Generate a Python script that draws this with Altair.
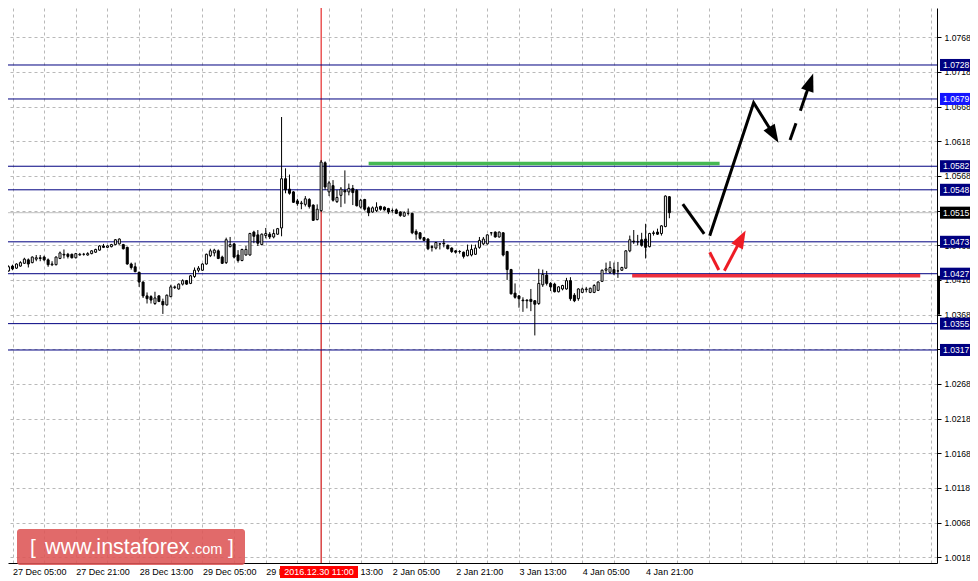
import json
import altair as alt
import pandas as pd

# ---------------- data ----------------
OPEN = [1.0431, 1.0438, 1.0435, 1.0438, 1.0442, 1.0447, 1.0443, 1.0448, 1.0450, 1.0451,
        1.0447, 1.0440, 1.0440, 1.0449, 1.0455, 1.0455, 1.0455, 1.0450, 1.0454, 1.0455,
        1.0454, 1.0456, 1.0458, 1.0461, 1.0467, 1.0465, 1.0466, 1.0469, 1.0470, 1.0469,
        1.0465, 1.0441, 1.0437, 1.0429, 1.0415, 1.0395, 1.0394, 1.0384, 1.0395, 1.0387,
        1.0382, 1.0394, 1.0407, 1.0405, 1.0412, 1.0417, 1.0413, 1.0423, 1.0432, 1.0432,
        1.0441, 1.0453, 1.0457, 1.0460, 1.0451, 1.0443, 1.0466, 1.0470, 1.0454, 1.0446,
        1.0454, 1.0454, 1.0487, 1.0483, 1.0469, 1.0482, 1.0484, 1.0480, 1.0484, 1.0493,
        1.0564, 1.0549, 1.0545, 1.0532, 1.0528, 1.0527, 1.0534, 1.0526, 1.0505, 1.0518,
        1.0587, 1.0545, 1.0554, 1.0531, 1.0540, 1.0547, 1.0545, 1.0550, 1.0547, 1.0523,
        1.0534, 1.0522, 1.0516, 1.0518, 1.0524, 1.0523, 1.0521, 1.0518, 1.0519, 1.0516,
        1.0510, 1.0514, 1.0514, 1.0488, 1.0486, 1.0479, 1.0477, 1.0466, 1.0464, 1.0470,
        1.0471, 1.0468, 1.0464, 1.0460, 1.0459, 1.0458, 1.0453, 1.0454, 1.0455, 1.0465,
        1.0470, 1.0470, 1.0486, 1.0487, 1.0480, 1.0486, 1.0459, 1.0433, 1.0399, 1.0395,
        1.0389, 1.0389, 1.0390, 1.0388, 1.0384, 1.0411, 1.0425, 1.0413, 1.0412, 1.0401,
        1.0405, 1.0405, 1.0417, 1.0396, 1.0391, 1.0400, 1.0404, 1.0400, 1.0400, 1.0403,
        1.0416, 1.0432, 1.0429, 1.0433, 1.0431, 1.0432, 1.0435, 1.0460, 1.0474, 1.0473,
        1.0476, 1.0477, 1.0466, 1.0485, 1.0487, 1.0485, 1.0495, 1.0538]
HIGH = [1.0439, 1.0440, 1.0442, 1.0445, 1.0450, 1.0449, 1.0452, 1.0454, 1.0454, 1.0453,
        1.0449, 1.0445, 1.0452, 1.0459, 1.0462, 1.0457, 1.0456, 1.0457, 1.0457, 1.0457,
        1.0458, 1.0461, 1.0463, 1.0468, 1.0470, 1.0468, 1.0470, 1.0477, 1.0478, 1.0470,
        1.0466, 1.0443, 1.0443, 1.0430, 1.0416, 1.0400, 1.0396, 1.0401, 1.0396, 1.0391,
        1.0397, 1.0411, 1.0410, 1.0413, 1.0419, 1.0418, 1.0425, 1.0436, 1.0438, 1.0442,
        1.0456, 1.0463, 1.0463, 1.0462, 1.0453, 1.0479, 1.0480, 1.0471, 1.0461, 1.0463,
        1.0467, 1.0486, 1.0489, 1.0490, 1.0485, 1.0493, 1.0487, 1.0491, 1.0493, 1.0653,
        1.0579, 1.0570, 1.0546, 1.0535, 1.0532, 1.0539, 1.0536, 1.0527, 1.0527, 1.0591,
        1.0589, 1.0561, 1.0562, 1.0548, 1.0552, 1.0576, 1.0557, 1.0555, 1.0549, 1.0535,
        1.0535, 1.0524, 1.0524, 1.0530, 1.0525, 1.0524, 1.0522, 1.0521, 1.0521, 1.0517,
        1.0517, 1.0521, 1.0515, 1.0491, 1.0487, 1.0480, 1.0478, 1.0468, 1.0473, 1.0471,
        1.0477, 1.0469, 1.0465, 1.0461, 1.0461, 1.0459, 1.0469, 1.0469, 1.0469, 1.0480,
        1.0480, 1.0484, 1.0487, 1.0488, 1.0488, 1.0487, 1.0460, 1.0434, 1.0413, 1.0396,
        1.0393, 1.0390, 1.0405, 1.0389, 1.0434, 1.0433, 1.0431, 1.0415, 1.0414, 1.0409,
        1.0411, 1.0421, 1.0422, 1.0399, 1.0406, 1.0407, 1.0408, 1.0407, 1.0412, 1.0416,
        1.0433, 1.0443, 1.0445, 1.0443, 1.0444, 1.0437, 1.0461, 1.0482, 1.0490, 1.0483,
        1.0486, 1.0499, 1.0486, 1.0489, 1.0492, 1.0497, 1.0540, 1.0539]
LOW = [1.0430, 1.0432, 1.0434, 1.0437, 1.0441, 1.0436, 1.0442, 1.0445, 1.0445, 1.0445,
       1.0437, 1.0438, 1.0439, 1.0448, 1.0449, 1.0449, 1.0449, 1.0449, 1.0453, 1.0453,
       1.0453, 1.0455, 1.0457, 1.0460, 1.0464, 1.0464, 1.0465, 1.0468, 1.0469, 1.0462,
       1.0440, 1.0433, 1.0429, 1.0408, 1.0392, 1.0384, 1.0384, 1.0382, 1.0386, 1.0369,
       1.0381, 1.0393, 1.0405, 1.0404, 1.0410, 1.0411, 1.0412, 1.0421, 1.0429, 1.0431,
       1.0440, 1.0451, 1.0452, 1.0448, 1.0441, 1.0441, 1.0465, 1.0449, 1.0443, 1.0445,
       1.0453, 1.0453, 1.0471, 1.0467, 1.0468, 1.0478, 1.0477, 1.0478, 1.0483, 1.0481,
       1.0543, 1.0541, 1.0529, 1.0525, 1.0520, 1.0524, 1.0521, 1.0503, 1.0504, 1.0516,
       1.0548, 1.0539, 1.0531, 1.0529, 1.0523, 1.0528, 1.0540, 1.0526, 1.0524, 1.0521,
       1.0518, 1.0510, 1.0515, 1.0516, 1.0518, 1.0518, 1.0513, 1.0515, 1.0513, 1.0509,
       1.0509, 1.0511, 1.0484, 1.0476, 1.0476, 1.0474, 1.0461, 1.0459, 1.0462, 1.0462,
       1.0465, 1.0462, 1.0457, 1.0456, 1.0456, 1.0449, 1.0452, 1.0452, 1.0454, 1.0463,
       1.0468, 1.0469, 1.0482, 1.0479, 1.0479, 1.0452, 1.0418, 1.0397, 1.0391, 1.0378,
       1.0372, 1.0377, 1.0373, 1.0338, 1.0382, 1.0408, 1.0410, 1.0402, 1.0400, 1.0400,
       1.0403, 1.0404, 1.0388, 1.0386, 1.0388, 1.0399, 1.0400, 1.0399, 1.0399, 1.0402,
       1.0415, 1.0428, 1.0427, 1.0425, 1.0421, 1.0431, 1.0434, 1.0458, 1.0470, 1.0468,
       1.0466, 1.0449, 1.0465, 1.0482, 1.0483, 1.0482, 1.0494, 1.0507]
CLOSE = [1.0437, 1.0434, 1.0441, 1.0443, 1.0448, 1.0441, 1.0451, 1.0450, 1.0449, 1.0447,
         1.0440, 1.0441, 1.0451, 1.0457, 1.0454, 1.0452, 1.0450, 1.0456, 1.0455, 1.0455,
         1.0456, 1.0460, 1.0462, 1.0467, 1.0465, 1.0467, 1.0469, 1.0476, 1.0477, 1.0463,
         1.0441, 1.0436, 1.0430, 1.0415, 1.0395, 1.0391, 1.0389, 1.0392, 1.0387, 1.0382,
         1.0396, 1.0408, 1.0408, 1.0412, 1.0417, 1.0412, 1.0424, 1.0432, 1.0435, 1.0441,
         1.0455, 1.0460, 1.0461, 1.0449, 1.0442, 1.0476, 1.0469, 1.0451, 1.0446, 1.0462,
         1.0462, 1.0485, 1.0481, 1.0471, 1.0484, 1.0485, 1.0480, 1.0485, 1.0492, 1.0564,
         1.0548, 1.0543, 1.0530, 1.0528, 1.0529, 1.0535, 1.0524, 1.0504, 1.0520, 1.0588,
         1.0552, 1.0558, 1.0533, 1.0537, 1.0549, 1.0545, 1.0550, 1.0544, 1.0525, 1.0533,
         1.0520, 1.0515, 1.0522, 1.0523, 1.0520, 1.0519, 1.0516, 1.0518, 1.0514, 1.0511,
         1.0515, 1.0514, 1.0486, 1.0484, 1.0478, 1.0475, 1.0463, 1.0465, 1.0472, 1.0470,
         1.0470, 1.0463, 1.0459, 1.0458, 1.0459, 1.0452, 1.0461, 1.0462, 1.0464, 1.0475,
         1.0477, 1.0483, 1.0486, 1.0480, 1.0487, 1.0454, 1.0433, 1.0398, 1.0393, 1.0391,
         1.0388, 1.0388, 1.0387, 1.0383, 1.0413, 1.0426, 1.0413, 1.0408, 1.0401, 1.0408,
         1.0410, 1.0417, 1.0391, 1.0388, 1.0405, 1.0405, 1.0405, 1.0406, 1.0410, 1.0415,
         1.0432, 1.0434, 1.0436, 1.0428, 1.0431, 1.0436, 1.0460, 1.0476, 1.0473, 1.0473,
         1.0468, 1.0465, 1.0485, 1.0486, 1.0484, 1.0496, 1.0539, 1.0515]

# time axis: bar index of each label (H1 bars)
TIME_LABELS = ["27 Dec 05:00", "27 Dec 21:00", "28 Dec 13:00", "29 Dec 05:00", "29 Dec 21:00",
               "30 Dec 13:00", "2 Jan 05:00", "2 Jan 21:00", "3 Jan 13:00", "4 Jan 05:00",
               "4 Jan 21:00"]
TIME_LABEL_BARS = [1, 17, 33, 49, 65, 81, 97, 113, 129, 145, 161]
GRID_BARS = [1 + 8 * k for k in range(30)]
CROSSHAIR_BAR = 79
CROSSHAIR_TEXT = "2016.12.30 11:00"

PRICE_TICKS = [1.0018, 1.0068, 1.0118, 1.0168, 1.0218, 1.0268, 1.0318, 1.0368,
               1.0418, 1.0468, 1.0518, 1.0568, 1.0618, 1.0668, 1.0718, 1.0768]

LEVEL_PRICES = [1.0728, 1.0679, 1.0582, 1.0548, 1.0473, 1.0427, 1.0355, 1.0317]
LEVEL_BOX_PRICES = [1.0728, 1.0679, 1.0582, 1.0548, 1.0515, 1.0473, 1.0427, 1.0355, 1.0317]
LEVEL_BOX_COLORS = ["#000080", "#1414ff", "#000080", "#000080", "#000000",
                    "#000080", "#000080", "#000080", "#000080"]
BID_PRICE = 1.0515

# target / support lines (bar index start, end, price)
ZONE_START = [91.0, 157.6]
ZONE_END = [179.7, 230.4]
ZONE_PRICE = [1.0586, 1.0424]
ZONE_COLOR = ["#3cb54a", "#ec2434"]

# forecast arrows (bar index, price)
BLACK_SEG = ["a", "a", "b", "b", "b", "c", "c", "d", "d"]
BLACK_BAR = [170.4, 175.8, 177.2, 188.3, 193.4, 197.5, 199.0, 200.1, 202.6]
BLACK_PRICE = [1.05275, 1.04843, 1.04818, 1.06736, 1.06271, 1.06198, 1.06439, 1.06621, 1.07035]
RED_SEG = ["a", "a", "b", "b"]
RED_BAR = [177.2, 179.5, 180.9, 185.2]
RED_PRICE = [1.04579, 1.04324, 1.04313, 1.04779]
HEAD_BAR = [193.4, 202.6, 185.2]
HEAD_PRICE = [1.06271, 1.07035, 1.04779]
HEAD_ANGLE = [149, 19, 28]
HEAD_COLOR = ["#000000", "#000000", "#ee1c25"]

CURRENT_BAR_TOP = 1.0424
CURRENT_BAR_BOTTOM = 1.0368

# ---------------- layout ----------------
W, H = 929, 555
RIGHT = 33          # keeps the svg at 962 px, the width of the page body
XS = alt.Scale(domain=[1.125, 233.375], nice=False, zero=False)
YS = alt.Scale(domain=[1.00098, 1.08102], nice=False, zero=False)
FONT = "Liberation Sans"
GRID_COL = "#b9b9b9"
RFS = 8.6

label_slots = []
for k in range(len(GRID_BARS)):
    b = GRID_BARS[k]
    label_slots.append(TIME_LABELS[TIME_LABEL_BARS.index(b)] if b in TIME_LABEL_BARS else "")
label_expr = json.dumps(label_slots) + "[round((datum.value - 1) / 8)]"

XA = alt.Axis(orient="bottom", values=GRID_BARS, labelExpr=label_expr, grid=True,
              gridColor=GRID_COL, gridDash=[3, 3], tickSize=0, labelAlign="left",
              labelBaseline="top", labelPadding=4, labelFont=FONT, labelFontSize=9,
              labelColor="black", labelOverlap=False, labelFlush=False, labelBound=False,
              domainColor="black", domainWidth=1, title=None, zindex=0)
YA = alt.Axis(orient="right", values=PRICE_TICKS, format=".4f", grid=True,
              gridColor=GRID_COL, gridDash=[3, 3], tickSize=4, tickColor="black",
              labelPadding=3, labelFont=FONT, labelFontSize=RFS, labelColor="black",
              labelOverlap=False, labelFlush=False, domainColor="black", title=None,
              zindex=0)


def X(field):
    return alt.X(field, scale=XS, axis=XA)


def Y(field):
    return alt.Y(field, scale=YS, axis=YA)


bars = pd.DataFrame({"bar": list(range(len(OPEN))), "open": OPEN, "high": HIGH,
                     "low": LOW, "close": CLOSE})
bars["dir"] = ["up" if c >= o else "down" for o, c in zip(OPEN, CLOSE)]

frame = alt.Chart(pd.DataFrame({"bar": [CROSSHAIR_BAR], "price": [BID_PRICE]})).mark_rule(
    color="#c0c0c0", strokeWidth=1).encode(x=X("bar:Q"), y=Y("price:Q"))
bid = alt.Chart(pd.DataFrame({"price": [BID_PRICE]})).mark_rule(
    color="#c0c0c0", strokeWidth=1).encode(y=Y("price:Q"))

levels = alt.Chart(pd.DataFrame({"price": LEVEL_PRICES})).mark_rule(
    color="#000080", strokeWidth=1).encode(y=Y("price:Q"))

cross = alt.Chart(pd.DataFrame({"bar": [CROSSHAIR_BAR]})).mark_rule(
    color="#e00000", strokeWidth=1).encode(x=X("bar:Q"))

wick = alt.Chart(bars).mark_rule(color="black", strokeWidth=1, clip=True).encode(
    x=X("bar:Q"), y=Y("low:Q"), y2="high:Q")

body = alt.Chart(bars).mark_bar(size=2, stroke="black", strokeWidth=1, clip=True).encode(
    x=X("bar:Q"), y=Y("open:Q"), y2="close:Q",
    fill=alt.Fill("dir:N", scale=alt.Scale(domain=["up", "down"], range=["white", "black"]),
                  legend=None))

zones = alt.Chart(pd.DataFrame({"s": ZONE_START, "e": ZONE_END, "price": ZONE_PRICE,
                                "col": ZONE_COLOR})).mark_rule(strokeWidth=3.5, opacity=0.95).encode(
    x=X("s:Q"), x2="e:Q", y=Y("price:Q"), color=alt.Color("col:N", scale=None))

black_arrows = alt.Chart(pd.DataFrame({"seg": BLACK_SEG, "bar": BLACK_BAR, "price": BLACK_PRICE,
                                       "ord": list(range(len(BLACK_BAR)))})).mark_line(
    color="black", strokeWidth=3).encode(
    x=X("bar:Q"), y=Y("price:Q"), detail="seg:N", order="ord:Q")

red_arrows = alt.Chart(pd.DataFrame({"seg": RED_SEG, "bar": RED_BAR, "price": RED_PRICE,
                                     "ord": list(range(len(RED_BAR)))})).mark_line(
    color="#ee1c25", strokeWidth=3).encode(
    x=X("bar:Q"), y=Y("price:Q"), detail="seg:N", order="ord:Q")

heads = alt.Chart(pd.DataFrame({"bar": HEAD_BAR, "price": HEAD_PRICE, "ang": HEAD_ANGLE,
                                "col": HEAD_COLOR})).mark_point(
    shape="M0,-1L0.72,1L-0.72,1Z", filled=True, size=330, opacity=1).encode(
    x=X("bar:Q"), y=Y("price:Q"),
    angle=alt.Angle("ang:Q", scale=None), color=alt.Color("col:N", scale=None))

boxes_df = pd.DataFrame({"price": LEVEL_BOX_PRICES, "col": LEVEL_BOX_COLORS})
boxes_df["label"] = [f"{p:.4f}" for p in LEVEL_BOX_PRICES]
boxes = alt.Chart(boxes_df).transform_calculate(
    lo="datum.price - 0.00087", hi="datum.price + 0.00087").mark_rect().encode(
    x=alt.value(W + 3), x2=alt.value(W + RIGHT + 2),
    y=Y("lo:Q"), y2="hi:Q",
    color=alt.Color("col:N", scale=None))
box_text = alt.Chart(boxes_df).mark_text(align="left", baseline="middle", color="white",
                                         font=FONT, fontSize=RFS).encode(
    x=alt.value(W + 6), y=Y("price:Q"), text="label:N")

cur_bar = alt.Chart(pd.DataFrame({"t": [CURRENT_BAR_TOP], "b": [CURRENT_BAR_BOTTOM]})).mark_rule(
    color="black", strokeWidth=3).encode(
    x=alt.value(W + 1.5), y=Y("t:Q"), y2="b:Q")

time_box = alt.Chart(pd.DataFrame({"bar": [CROSSHAIR_BAR]})).mark_rect(color="#ff0000").encode(
    x=alt.value(272), x2=alt.value(350), y=alt.value(H + 3), y2=alt.value(H + 15))
time_text = alt.Chart(pd.DataFrame({"t": [CROSSHAIR_TEXT]})).mark_text(
    color="white", font=FONT, fontSize=9, align="center", baseline="middle").encode(
    x=alt.value(311), y=alt.value(H + 9), text="t:N")

wm_box = alt.Chart(pd.DataFrame({"a": [1]})).mark_rect(
    color="#dd5555", opacity=0.88, cornerRadius=3).encode(
    x=alt.value(9), x2=alt.value(237), y=alt.value(H - 34), y2=alt.value(H + 2))
wm_parts = pd.DataFrame({"t": ["[", "www.instaforex", ".com", "]"],
                         "x": [22, 37, 183, 220], "s": [21, 21.5, 14.5, 21]})
wm_text = alt.Chart(wm_parts).mark_text(color="white", font="Liberation Sans",
                                        align="left", baseline="alphabetic").encode(
    x=alt.X("x:Q", scale=None, axis=None), y=alt.value(H - 9),
    text="t:N", size=alt.Size("s:Q", scale=None, legend=None))

chart = alt.layer(
    frame, bid, cross, levels, wick, body, zones, black_arrows, red_arrows, heads,
    boxes, box_text, cur_bar, time_box, time_text, wm_box, wm_text
).properties(
    width=W, height=H,
    autosize=alt.AutoSizeParams(type="none"),
    padding={"left": 0, "top": 0, "right": RIGHT, "bottom": 18},
    background="white"
).configure_view(stroke=None)

chart.save("out.html", embed_options={"renderer": "svg", "actions": False})
